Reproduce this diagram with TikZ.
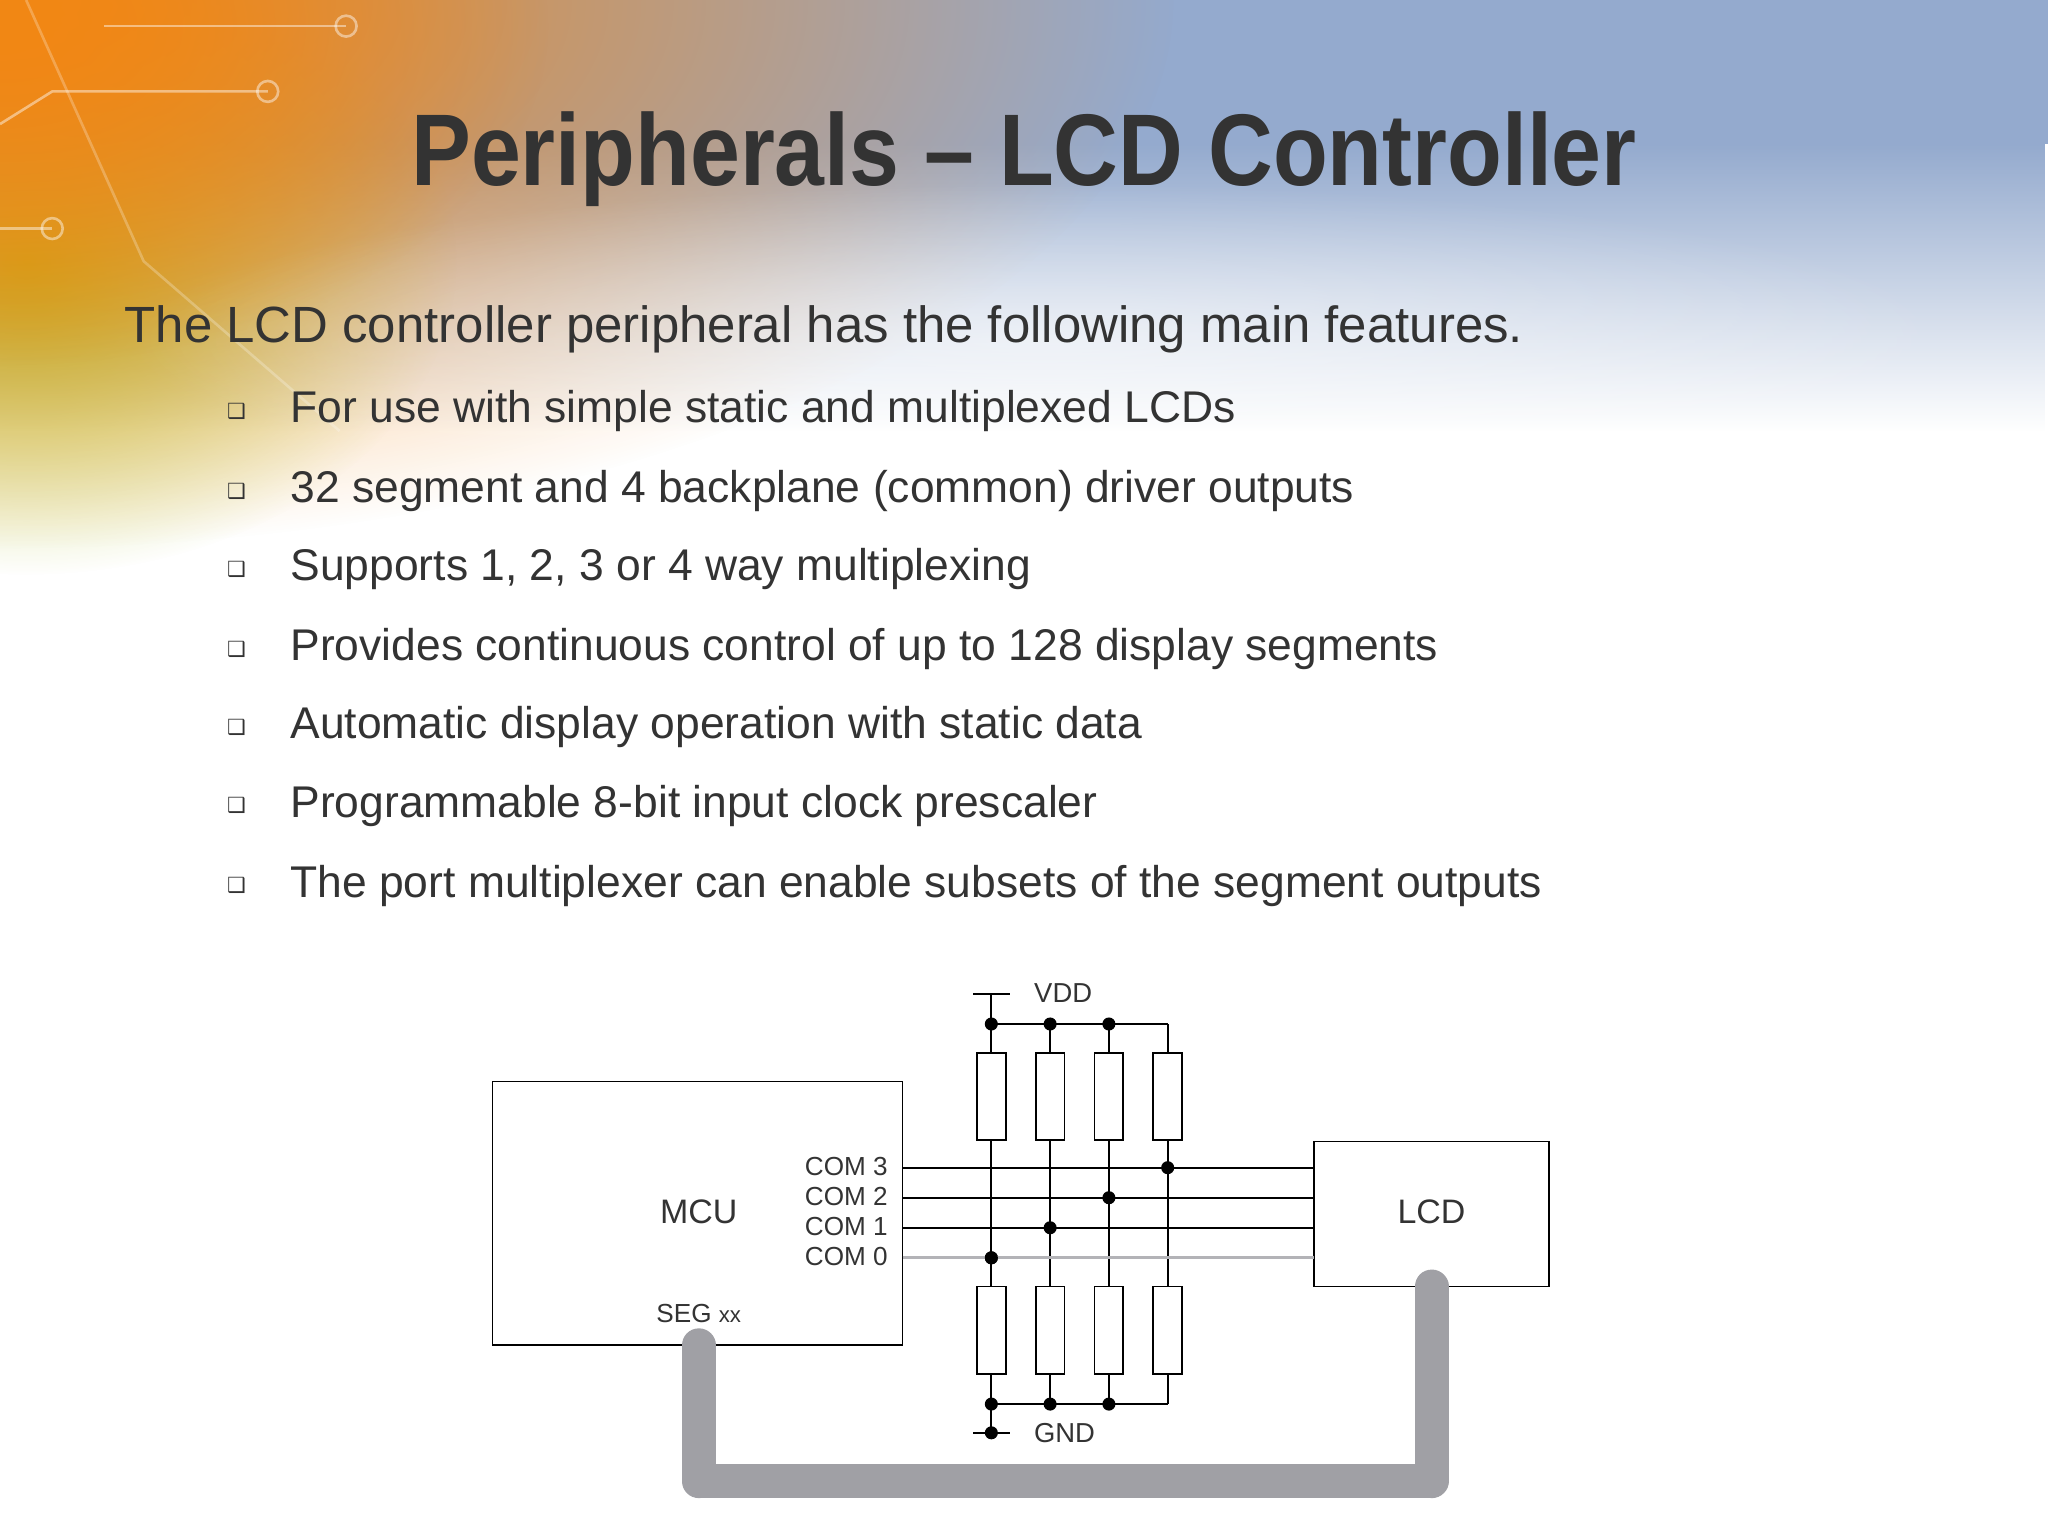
\documentclass[tikz,border=0pt]{standalone}
\usepackage{fontspec}
\setmainfont{Liberation Sans}
\newfontfamily\titlef{Liberation Sans}[FakeStretch=0.88]
\newfontfamily\symf{DejaVu Sans}
\usetikzlibrary{fadings}
\tikzfading[name=softdisc, inner color=transparent!0, outer color=transparent!100]
\definecolor{txt}{RGB}{51,51,51}
\definecolor{skyb}{RGB}{148,170,206}
\definecolor{orng}{RGB}{242,135,20}
\definecolor{lime}{RGB}{175,192,35}
\definecolor{bus}{RGB}{160,160,165}
\begin{document}
\begin{tikzpicture}[x=0.5pt,y=-0.5pt,
  wire/.style={line width=0.7pt,black},
  res/.style={draw,line width=0.7pt,fill=white,minimum width=11pt,minimum height=33.5pt,inner sep=0pt},
  jn/.style={circle,fill=black,inner sep=0pt,minimum size=5pt},
  lbl/.style={font=\fontsize{10}{12}\selectfont,text=txt,inner sep=0pt},
  bul/.style={anchor=west,font=\fontsize{17}{20}\selectfont,text=txt,inner sep=0pt},
  bx/.style={anchor=center,font=\symf\fontsize{8}{10}\selectfont,text=txt,inner sep=0pt},
  deco/.style={white,opacity=0.45,line width=1pt}]
\useasboundingbox (0,0) rectangle (1568,1176);
\fill[white] (0,0) rectangle (1568,1176);
% background
\fill[skyb] (0,0) rectangle (1568,110);
\fill[skyb,path fading=south] (0,110) rectangle (1568,330);
\fill[lime,path fading=softdisc] (20,200) ellipse (330 and 240);
\fill[orng,path fading=softdisc] (0,0) ellipse (900 and 420);
\fill[orng,path fading=softdisc] (0,20) ellipse (420 and 260);
\fill[white,opacity=0.5,path fading=softdisc] (800,260) ellipse (700 and 120);
\draw[deco] (80,20) -- (265,20) node[circle,draw,minimum size=8pt,inner sep=0pt]{};
\draw[deco] (0,95) -- (40,70) -- (205,70) node[circle,draw,minimum size=8pt,inner sep=0pt]{};
\draw[deco] (0,175) -- (40,175) node[circle,draw,minimum size=8pt,inner sep=0pt]{};
\draw[deco,opacity=0.25] (20,0) -- (110,200) -- (260,330);
% title and text
\node[font=\titlef\fontsize{39}{44}\selectfont\bfseries,text=txt,inner sep=0pt] (title) at (784,122) {Peripherals – LCD Controller};
\node[anchor=west,font=\fontsize{19.5}{23}\selectfont,text=txt,inner sep=0pt] (intro) at (95,252) {The LCD controller peripheral has the following main features.};
\foreach \y/\t [count=\i] in {315/For use with simple static and multiplexed LCDs,
  376/32 segment and 4 backplane (common) driver outputs,
  436/{Supports 1, 2, 3 or 4 way multiplexing},
  497/Provides continuous control of up to 128 display segments,
  557/Automatic display operation with static data,
  617/Programmable 8-bit input clock prescaler,
  678/The port multiplexer can enable subsets of the segment outputs}{
  \node[bx] (b\i) at (181,\y) {❑};
  \node[bul] (t\i) at (222,\y) {\t};
}
% diagram panel
\fill[white] (352,735) rectangle (1215,1176);
\node[draw,line width=0.7pt,minimum width=157pt,minimum height=101pt,inner sep=0pt] (mcu) at (534,929) {};
\node[draw,line width=0.7pt,minimum width=90pt,minimum height=55.5pt,inner sep=0pt] (lcd) at (1096,929.5) {};
\node[font=\fontsize{13}{15}\selectfont,text=txt] (mculbl) at (535,928) {MCU};
\node[font=\fontsize{13}{15}\selectfont,text=txt] (lcdlbl) at (1096,928) {LCD};
\node[lbl] (seg) at (535,1006) {SEG {\fontsize{8.5}{10}\selectfont xx}};
% gray bus
\coordinate (s0) at (535,1030);
\coordinate (s3) at (1096,985);
\draw[bus,line width=13pt] (535,1134) -- (1096,1134);
\draw[bus,line width=13pt,line cap=round] (s0) -- (535,1134);
\draw[bus,line width=13pt,line cap=round] (s3) -- (1096,1134);
% resistors
\foreach \x [count=\k] in {759,804,849,894}{
  \node[res] (rt\k) at (\x,839.5) {};
  \node[res] (rb\k) at (\x,1018.5) {};
  \draw[wire] (rt\k.south) -- (rb\k.north);
  \coordinate (tp\k) at (\x,784);
  \coordinate (bt\k) at (\x,1075);
  \draw[wire] (tp\k) -- (rt\k.north);
  \draw[wire] (rb\k.south) -- (bt\k);
}
\draw[wire] (tp1) -- (tp4);
\draw[wire] (bt1) -- (bt4);
\coordinate (vdd) at (759,761);
\coordinate (gnd) at (759,1097);
\draw[wire] (745,761) -- (773,761);
\draw[wire] (vdd) -- (tp1);
\draw[wire] (745,1097) -- (773,1097);
\draw[wire] (bt1) -- (gnd);
\node[lbl,font=\fontsize{10.5}{12}\selectfont] (vddl) at (814,760) {VDD};
\node[lbl,font=\fontsize{10.5}{12}\selectfont] (gndl) at (815,1097) {GND};
\foreach \k in {1,2,3}{ \node[jn] at (tp\k) {}; \node[jn] at (bt\k) {}; }
\node[jn] at (gnd) {};
% COM lines
\foreach \y/\n/\c in {894/3/4,917/2/3,940/1/2,963/0/1}{
  \node[lbl,anchor=east] (cl\n) at (680,\y-1) {COM \n};
  \coordinate (ca\n) at (691,\y);
  \coordinate (cb\n) at (1006,\y);
  \node[jn] (cj\n) at (rt\c.south |- ca\n) {};
}
\draw[wire] (ca3) -- (cb3);
\draw[wire] (ca2) -- (cb2);
\draw[wire] (ca1) -- (cb1);
\draw[line width=1.2pt,bus!80] (ca0) -- (cb0);
\node[jn] at (cj0) {};
\end{tikzpicture}
\end{document}
